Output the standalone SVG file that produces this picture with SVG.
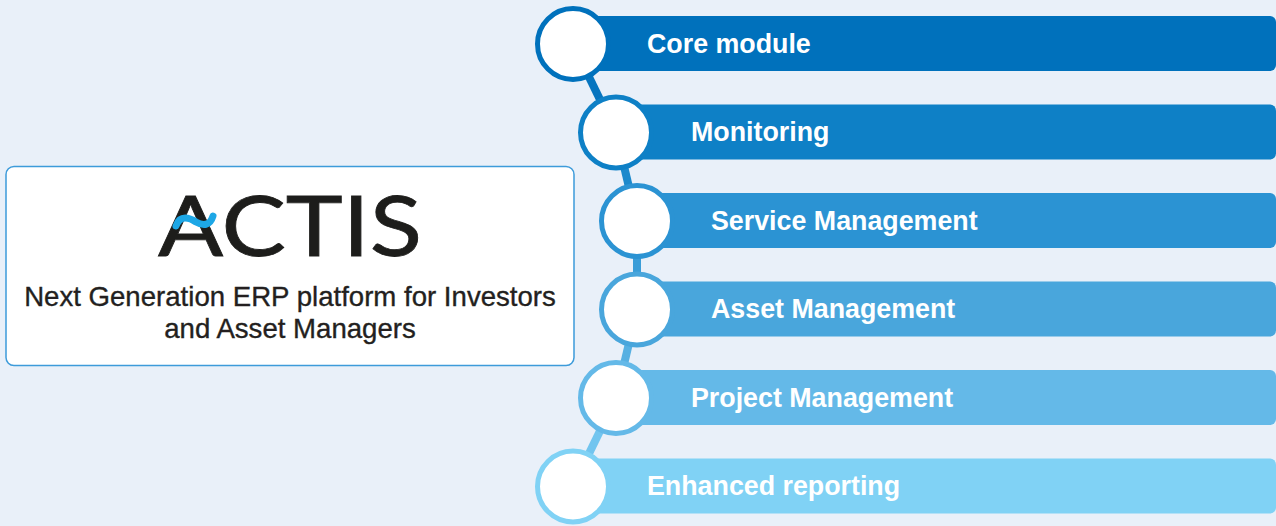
<svg xmlns="http://www.w3.org/2000/svg" width="1276" height="526" viewBox="0 0 1276 526">
<style>
.bar{stroke:none}
.dot{fill:#ffffff;stroke-width:5}
.lbl{font-family:"Liberation Sans",Arial,Helvetica,sans-serif;font-weight:bold;font-size:26.8px;fill:#ffffff}
.desc{font-family:"Liberation Sans",Arial,Helvetica,sans-serif;font-size:27.6px;fill:#231F20;stroke:#231F20;stroke-width:0.35;text-anchor:middle}
.link{stroke-width:8;stroke-linecap:butt;fill:none}
</style>
<rect x="0" y="0" width="1276" height="526" fill="#E9F0F9"/>
<g id="connectors">
<line class="link" x1="573" y1="44" x2="616" y2="132.5" stroke="#0775BF"/>
<line class="link" x1="616" y1="132.5" x2="637" y2="221" stroke="#1C89CC"/>
<line class="link" x1="637" y1="221" x2="637" y2="309.5" stroke="#3A9DD8"/>
<line class="link" x1="637" y1="309.5" x2="616" y2="398" stroke="#57B0E2"/>
<line class="link" x1="616" y1="398" x2="573" y2="486.5" stroke="#72C5EF"/>
</g>
<g id="platform">
<rect x="6" y="166.5" width="568" height="199" rx="8" fill="#ffffff" stroke="#3D9BDA" stroke-width="1.5"/>
<text x="290" y="256" font-family="Lato,'Noto Sans',sans-serif" font-size="83" fill="#1d1d1b" stroke="#1d1d1b" stroke-width="0.8" textLength="264" lengthAdjust="spacingAndGlyphs" text-anchor="middle">ACTIS</text>
<path d="M176 226 C180 214 190 218 196 222 C203 226 210 226 213 216" fill="none" stroke="#1DA7E6" stroke-width="7" stroke-linecap="round"/>
<text class="desc" x="290" y="306">Next Generation ERP platform for Investors</text>
<text class="desc" x="290" y="338">and Asset Managers</text>
</g>
<g id="core-module">
<path class="bar" d="M573 16 H1270 A6 6 0 0 1 1276 22 V65 A6 6 0 0 1 1270 71 H573 Z" fill="#0071BC"/>
<circle class="dot" cx="573" cy="44" r="35.5" stroke="#0071BC"/>
<text class="lbl" x="647" y="52.5">Core module</text>
</g>
<g id="monitoring">
<path class="bar" d="M616 104.5 H1270 A6 6 0 0 1 1276 110.5 V153.5 A6 6 0 0 1 1270 159.5 H616 Z" fill="#0E80C6"/>
<circle class="dot" cx="616" cy="132.5" r="35.5" stroke="#0E80C6"/>
<text class="lbl" x="691" y="141">Monitoring</text>
</g>
<g id="service-management">
<path class="bar" d="M637 193 H1270 A6 6 0 0 1 1276 199 V242 A6 6 0 0 1 1270 248 H637 Z" fill="#2B93D3"/>
<circle class="dot" cx="637" cy="221" r="35.5" stroke="#2B93D3"/>
<text class="lbl" x="711" y="229.5">Service Management</text>
</g>
<g id="asset-management">
<path class="bar" d="M637 281.5 H1270 A6 6 0 0 1 1276 287.5 V330.5 A6 6 0 0 1 1270 336.5 H637 Z" fill="#49A6DC"/>
<circle class="dot" cx="637" cy="309.5" r="35.5" stroke="#49A6DC"/>
<text class="lbl" x="711" y="318">Asset Management</text>
</g>
<g id="project-management">
<path class="bar" d="M616 370 H1270 A6 6 0 0 1 1276 376 V419 A6 6 0 0 1 1270 425 H616 Z" fill="#64B9E8"/>
<circle class="dot" cx="616" cy="398" r="35.5" stroke="#64B9E8"/>
<text class="lbl" x="691" y="406.5">Project Management</text>
</g>
<g id="enhanced-reporting">
<path class="bar" d="M573 458.5 H1270 A6 6 0 0 1 1276 464.5 V507.5 A6 6 0 0 1 1270 513.5 H573 Z" fill="#80D2F5"/>
<circle class="dot" cx="573" cy="486.5" r="35.5" stroke="#80D2F5"/>
<text class="lbl" x="647" y="495">Enhanced reporting</text>
</g>
</svg>
